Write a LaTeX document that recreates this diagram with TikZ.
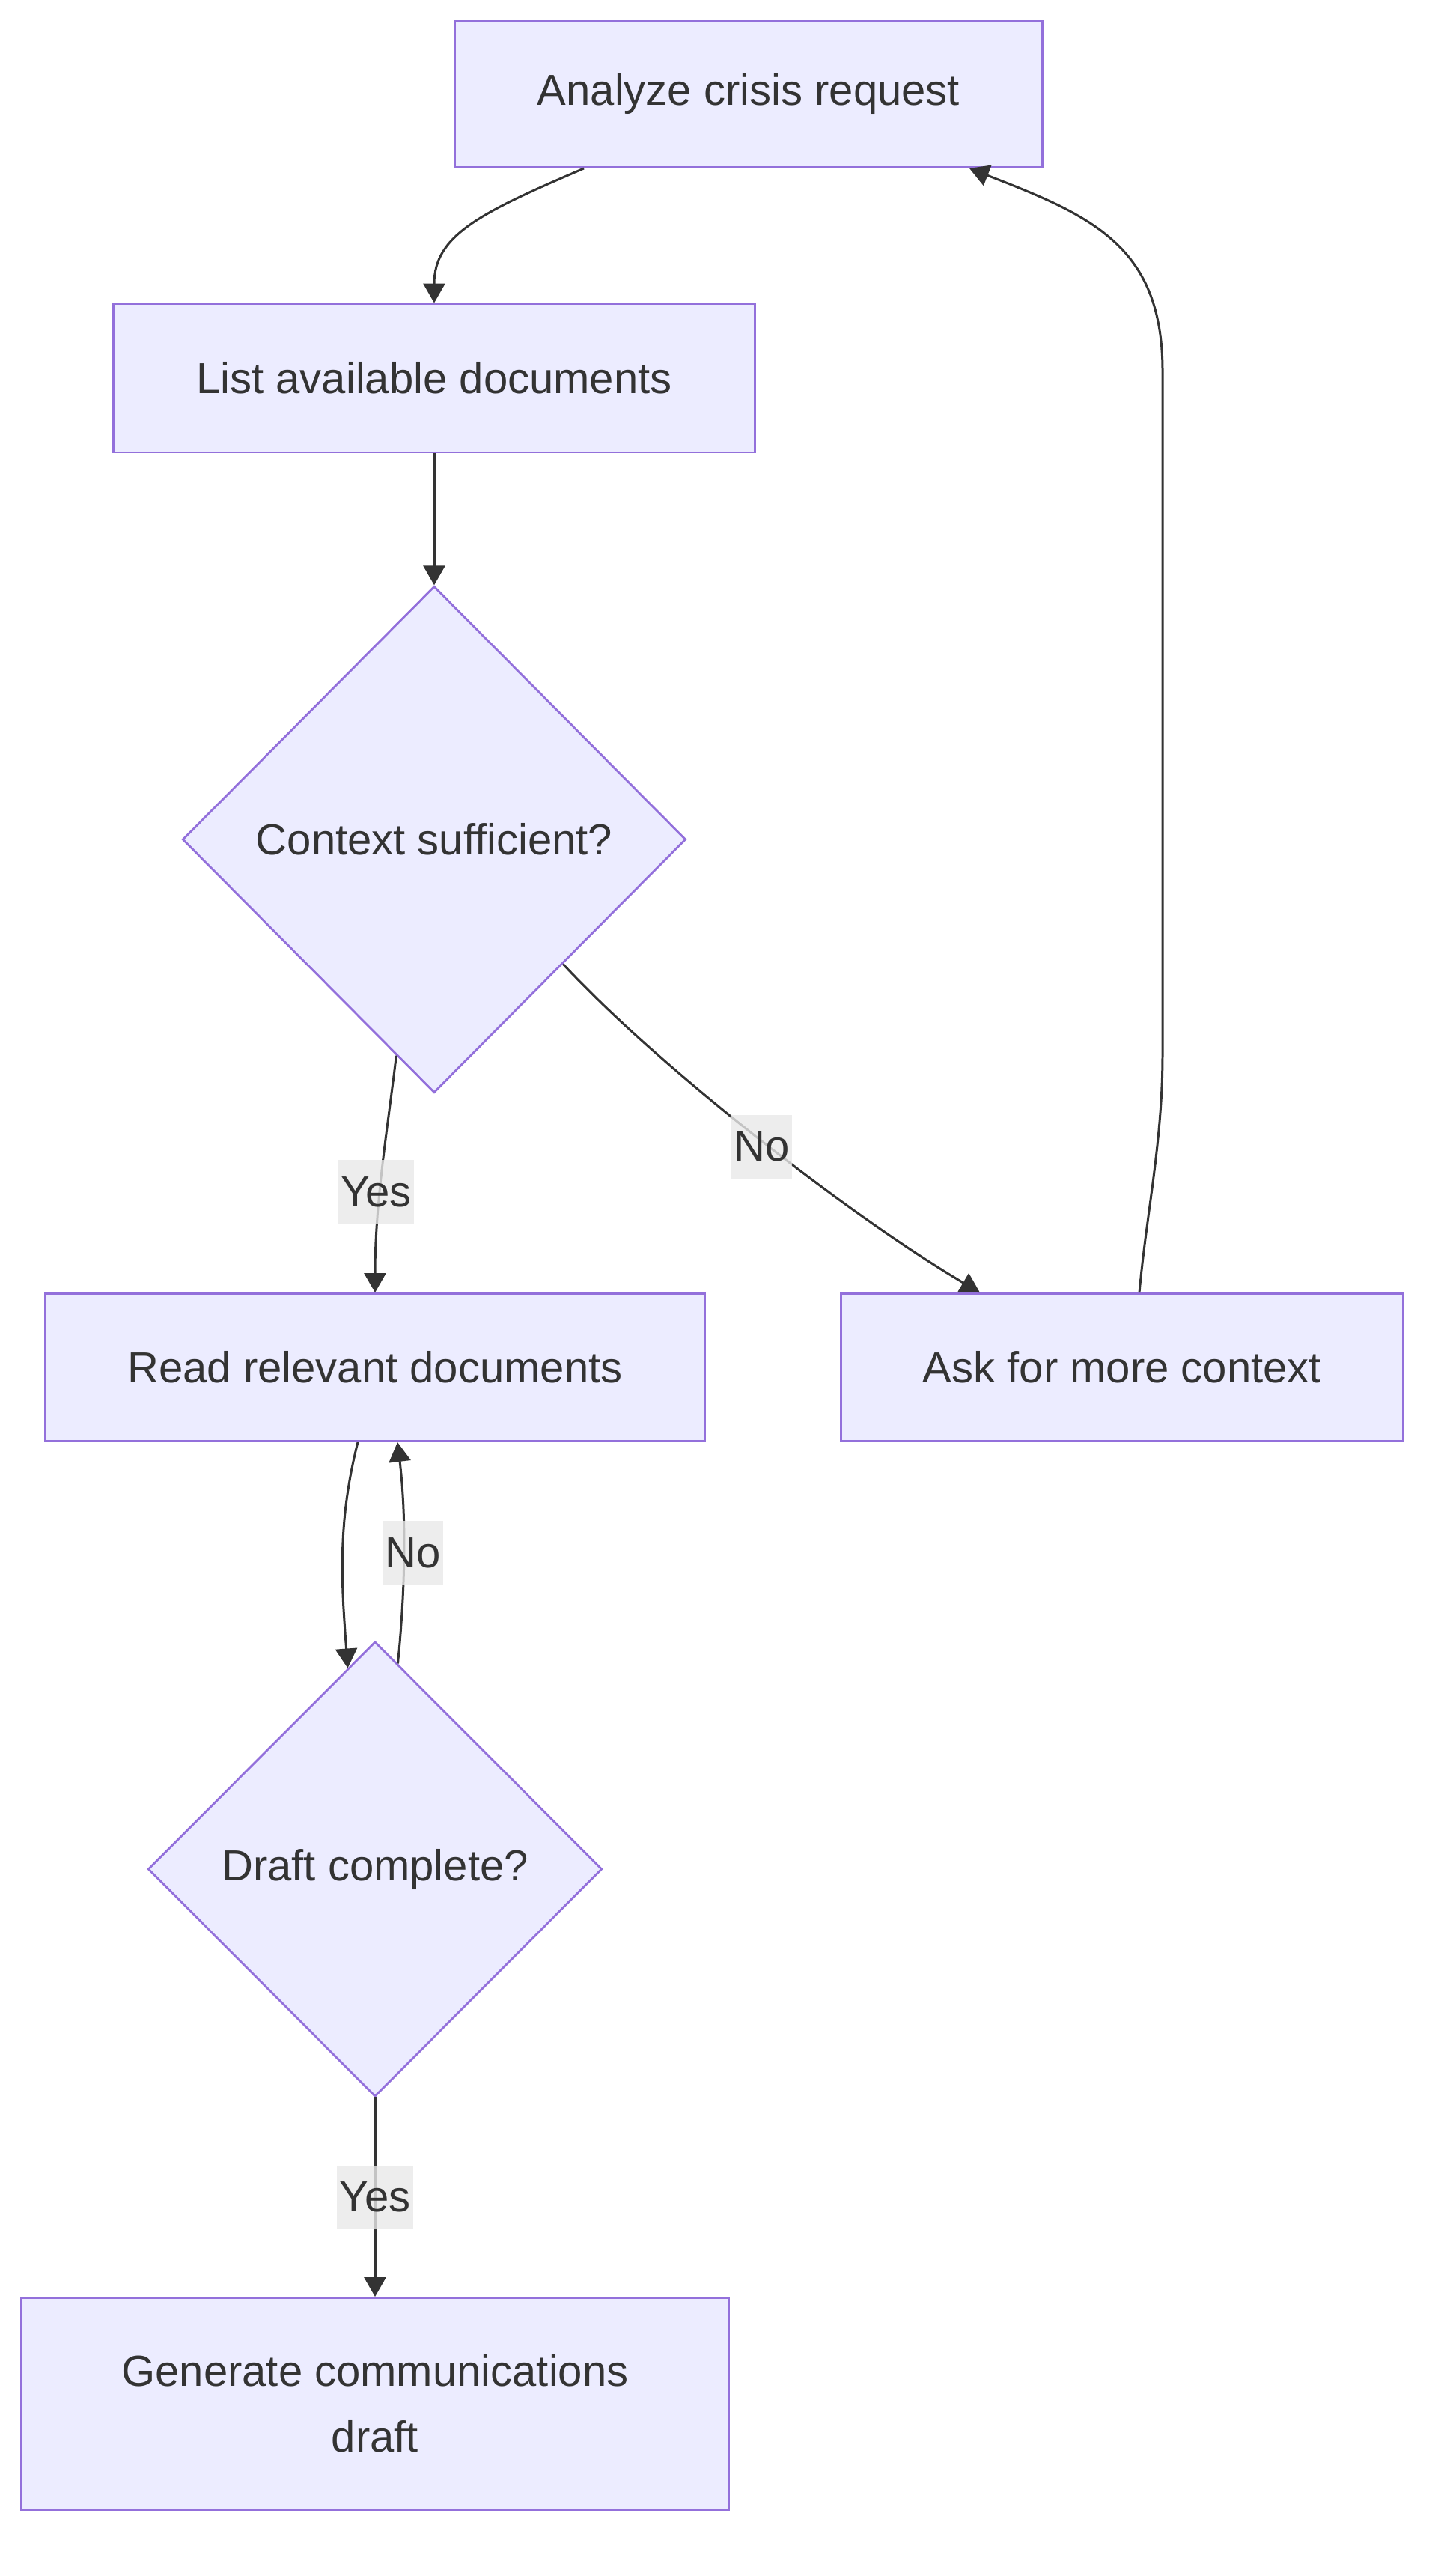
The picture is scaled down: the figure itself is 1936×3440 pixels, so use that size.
\documentclass[tikz,border=0pt]{standalone}
\usepackage{fontspec}
\setmainfont{Liberation Sans}
\usepackage{xcolor}
\usepackage{tikz}
\usetikzlibrary{arrows.meta, shapes.geometric, calc}

\definecolor{nodefill}{HTML}{ECECFF}
\definecolor{nodeline}{HTML}{9370DB}
\definecolor{edgeline}{HTML}{333333}
\definecolor{textgray}{HTML}{333333}
\definecolor{lblgray}{HTML}{E8E8E8}

\begin{document}
\begin{tikzpicture}[
    x=0.01cm, y=-0.01cm,
    box/.style={
        rectangle, draw=nodeline, fill=nodefill, line width=0.8pt,
        inner sep=0pt, align=center, text=textgray,
        font=\fontsize{16.5}{25}\selectfont
    },
    decision/.style={
        diamond, draw=nodeline, fill=nodefill, line width=0.8pt,
        inner sep=0pt, align=center, text=textgray,
        font=\fontsize{16.5}{25}\selectfont
    },
    arrow/.style={-{Triangle[length=0.26cm, width=0.29cm]}, draw=edgeline, line width=0.85pt},
    lbl/.style={fill=lblgray, fill opacity=0.8, text opacity=1, text=textgray,
        inner xsep=1pt, inner ysep=0pt, minimum height=0.85cm,
        font=\fontsize{16.5}{25}\selectfont}
]
    \useasboundingbox (0,0) rectangle (1936,3440);

    \node[box, minimum width=7.84cm, minimum height=1.95cm] (analyze) at (1000,126) {Analyze crisis request};
    \node[box, minimum width=8.57cm, minimum height=1.98cm] (list) at (580,505) {List available documents};
    \node[decision, minimum width=6.72cm, minimum height=6.76cm] (context) at (580,1121) {Context sufficient?};
    \node[box, minimum width=8.81cm, minimum height=1.97cm] (read) at (501,1826) {Read relevant documents};
    \node[box, minimum width=7.51cm, minimum height=1.97cm] (ask) at (1499,1826) {Ask for more context};
    \node[decision, minimum width=6.06cm, minimum height=6.07cm] (draft) at (501,2496) {Draft complete?};
    \node[box, minimum width=9.45cm, minimum height=2.83cm] (generate) at (501,3210) {Generate communications\\draft};

    \draw[arrow] ($(analyze.south)+(-220,0)$) .. controls +(-140,60) and +(0,-90) .. (list.north);
    \draw[arrow] (list) -- (context);
    \draw[arrow] ($(context.south)!0.15!(context.west)$) .. controls +(-12,100) and +(0,-120) .. (read.north)
        node[lbl, pos=0.6, xshift=-0.05cm] {Yes};
    \draw[arrow] ($(context.east)!0.49!(context.south)$) .. controls +(130,140) and +(-170,-100) .. ($(ask.north)+(-190,0)$)
        node[lbl, pos=0.52, xshift=-0.1cm] {No};
    \draw[arrow] ($(ask.north)+(23,0)$) .. controls +(10,-110) and +(0,120) .. ($(ask.north)+(54,-320)$)
        -- ($(ask.north)+(54,-1230)$) .. controls +(0,-167) and +(165,64) .. ($(analyze.south)+(295,0)$);
    \draw[arrow] ($(read.south)+(-23,0)$) .. controls +(-28,110) and +(-8,-110) .. ($(draft.north)!0.12!(draft.west)$);
    \draw[arrow] ($(draft.north)!0.1!(draft.east)$) .. controls +(10,-100) and +(12,100) .. ($(read.south)+(30,0)$)
        node[lbl, pos=0.5, xshift=0.12cm] {No};
    \draw[arrow] (draft) -- (generate) node[lbl, midway] {Yes};
\end{tikzpicture}
\end{document}
